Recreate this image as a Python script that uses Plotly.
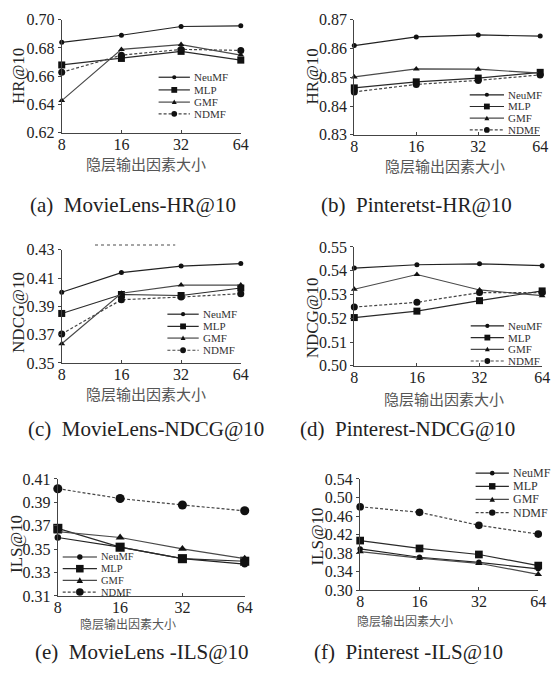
import plotly.graph_objects as go

W, H = 557, 683


def fx(X):
    return X / W


def fy(Y):
    return 1 - Y / H


categories = ["8", "16", "32", "64"]
series_names = ["NeuMF", "MLP", "GMF", "NDMF"]

# (a) MovieLens HR@10
a_neumf = [0.684, 0.689, 0.6952, 0.6957]
a_mlp = [0.668, 0.6726, 0.6776, 0.6714]
a_gmf = [0.6428, 0.679, 0.6824, 0.675]
a_ndmf = [0.6628, 0.6749, 0.679, 0.6783]
# (b) Pinterest HR@10
b_neumf = [0.8610, 0.8640, 0.8647, 0.8643]
b_mlp = [0.8463, 0.8484, 0.8497, 0.8517]
b_gmf = [0.8501, 0.8529, 0.8528, 0.8514]
b_ndmf = [0.8449, 0.8475, 0.8489, 0.8508]
# (c) MovieLens NDCG@10
c_neumf = [0.4000, 0.4139, 0.4185, 0.4203]
c_mlp = [0.3850, 0.3984, 0.3977, 0.4030]
c_gmf = [0.3636, 0.3993, 0.4051, 0.4051]
c_ndmf = [0.3705, 0.3947, 0.3966, 0.3990]
# (d) Pinterest NDCG@10
d_neumf = [0.5411, 0.5425, 0.5429, 0.5421]
d_mlp = [0.5203, 0.5230, 0.5274, 0.5315]
d_gmf = [0.5322, 0.5384, 0.5319, 0.5295]
d_ndmf = [0.5247, 0.5267, 0.5308, 0.5308]
# (e) MovieLens ILS@10
e_neumf = [0.3600, 0.3517, 0.3419, 0.3372]
e_mlp = [0.3678, 0.3517, 0.3419, 0.3397]
e_gmf = [0.3650, 0.3600, 0.3503, 0.3419]
e_ndmf = [0.4017, 0.3933, 0.3878, 0.3828]
# (f) Pinterest ILS@10
f_neumf = [0.389, 0.371, 0.360, 0.346]
f_mlp = [0.407, 0.390, 0.377, 0.353]
f_gmf = [0.383, 0.369, 0.358, 0.334]
f_ndmf = [0.480, 0.468, 0.440, 0.421]

y_titles = ["HR@10", "HR@10", "NDCG@10", "NDCG@10", "ILS@10", "ILS@10"]
captions = ["(a)  MovieLens-HR@10", "(b)  Pinteretst-HR@10",
            "(c)  MovieLens-NDCG@10", "(d)  Pinterest-NDCG@10",
            "(e)  MovieLens -ILS@10", "(f)  Pinterest -ILS@10"]
x_title = "隐层输出因素大小"
y_ranges = [(0.62, 0.70, 0.02), (0.83, 0.87, 0.01), (0.35, 0.43, 0.02),
            (0.50, 0.55, 0.01), (0.31, 0.41, 0.02), (0.30, 0.54, 0.04)]

panels = [
    [a_neumf, a_mlp, a_gmf, a_ndmf],
    [b_neumf, b_mlp, b_gmf, b_ndmf],
    [c_neumf, c_mlp, c_gmf, c_ndmf],
    [d_neumf, d_mlp, d_gmf, d_ndmf],
    [e_neumf, e_mlp, e_gmf, e_ndmf],
    [f_neumf, f_mlp, f_gmf, f_ndmf],
]

# layout in pixels: plot box (left, right, top, bottom)
boxes = [(59, 242, 12, 128), (358, 548, 12, 130),
         (59, 242, 248, 364), (358, 550, 245, 367),
         (55, 246, 483, 603), (364, 546, 483, 597)]
ytitle_pos = [(15, 70), (315, 70), (15, 312), (315, 318), (13, 550), (320, 542)]
xtitle_pos = [(145, 159.5, 15), (451, 162, 15), (145, 395.5, 15), (450, 400, 15),
              (127, 631, 12), (410, 628, 12)]
caption_pos = [(25, 202), (322, 202), (22, 432), (300, 432), (30, 660), (315, 660)]
# legend: line start x, line end x, row y's, font size
legend_geo = [(158, 190, [71, 84, 96.5, 108.5], 11),
              (476, 511, [89, 101, 113, 125], 11),
              (167, 199, [314, 326.5, 338.5, 351], 11),
              (477, 511, [326, 338, 350, 362], 11),
              (60, 95, [563, 575, 587, 599], 10.5),
              (482, 516, [477, 490.5, 504, 517.5], 12)]
marker_scale = [1.0, 1.0, 1.0, 1.0, 1.3, 1.1]

SERIF = "Liberation Serif, Times New Roman, serif"
CJK = "Noto Sans CJK SC"

line_styles = {
    "NeuMF": dict(color="#222222", width=1.2),
    "MLP": dict(color="#2a2a2a", width=1.2),
    "GMF": dict(color="#4a4a4a", width=1.2),
    "NDMF": dict(color="#444444", width=1.2, dash="3px,2px"),
}
marker_styles = {
    "NeuMF": ("circle", 5),
    "MLP": ("square", 7),
    "GMF": ("triangle-up", 6),
    "NDMF": ("circle", 7),
}

fig = go.Figure()
annotations = []
shapes = []

for i, series in enumerate(panels):
    k = i + 1
    xa = "x" if k == 1 else f"x{k}"
    ya = "y" if k == 1 else f"y{k}"
    for name, vals in zip(series_names, series):
        sym, sz = marker_styles[name]
        fig.add_trace(go.Scatter(
            x=categories, y=vals, name=name, mode="lines+markers",
            line=line_styles[name],
            marker=dict(symbol=sym, size=sz * marker_scale[i], color="#111"),
            xaxis=xa, yaxis=ya, showlegend=False, cliponaxis=False))
    l, r, t, b = boxes[i]
    lo, hi, dt = y_ranges[i]
    axx = dict(domain=[fx(l), fx(r)], anchor=ya, type="category",
               categoryorder="array", categoryarray=categories,
               range=[0, 3], showline=True, linecolor="#444", linewidth=1.3,
               ticks="inside", ticklen=3, tickcolor="#444", showgrid=False,
               zeroline=False, ticklabelstandoff=-3,
               tickfont=dict(family=SERIF, size=16, color="#222"))
    axy = dict(domain=[fy(b), fy(t)], anchor=xa, range=[lo, hi],
               dtick=dt, tick0=lo, tickformat=".2f", showline=True,
               linecolor="#444", linewidth=1.3, ticks="outside", ticklen=3,
               tickcolor="#444", showgrid=False, zeroline=False,
               tickfont=dict(family=SERIF, size=16, color="#222"))
    fig.layout["xaxis" if k == 1 else f"xaxis{k}"] = axx
    fig.layout["yaxis" if k == 1 else f"yaxis{k}"] = axy

    # axis titles and captions
    yx, yy = ytitle_pos[i]
    annotations.append(dict(text=y_titles[i], x=fx(yx), y=fy(yy),
                            xref="paper", yref="paper", showarrow=False,
                            textangle=-90, xanchor="center", yanchor="middle",
                            font=dict(family=SERIF, size=17, color="#222")))
    tx, ty, ts = xtitle_pos[i]
    annotations.append(dict(text=x_title, x=fx(tx), y=fy(ty),
                            xref="paper", yref="paper", showarrow=False,
                            xanchor="center", yanchor="middle",
                            font=dict(family=CJK, size=ts, color="#555")))
    cx, cy = caption_pos[i]
    annotations.append(dict(text=captions[i], x=fx(cx), y=fy(cy),
                            xref="paper", yref="paper", showarrow=False,
                            xanchor="left", yanchor="middle",
                            font=dict(family=SERIF, size=21, color="#222")))

    # legend (key samples + labels)
    x0, x1, rows, lfs = legend_geo[i]
    xm = (x0 + x1) / 2
    for name, yr in zip(series_names, rows):
        ls = line_styles[name]
        shapes.append(dict(type="line", xref="paper", yref="paper",
                           x0=fx(x0), x1=fx(x1), y0=fy(yr), y1=fy(yr),
                           line=dict(color=ls["color"], width=1.2,
                                     dash=ls.get("dash", "solid"))))
        sym, sz = marker_styles[name]
        s = sz * marker_scale[i] * 0.85
        hs = s / 2
        if sym == "circle":
            shapes.append(dict(type="circle", xref="paper", yref="paper",
                               x0=fx(xm - hs), x1=fx(xm + hs),
                               y0=fy(yr + hs), y1=fy(yr - hs),
                               fillcolor="#111", line=dict(width=0)))
        elif sym == "square":
            shapes.append(dict(type="rect", xref="paper", yref="paper",
                               x0=fx(xm - hs), x1=fx(xm + hs),
                               y0=fy(yr + hs), y1=fy(yr - hs),
                               fillcolor="#111", line=dict(width=0)))
        else:
            p = (f"M {fx(xm - hs)},{fy(yr + hs * 0.8)} "
                 f"L {fx(xm + hs)},{fy(yr + hs * 0.8)} "
                 f"L {fx(xm)},{fy(yr - hs)} Z")
            shapes.append(dict(type="path", xref="paper", yref="paper",
                               path=p, fillcolor="#111", line=dict(width=0)))
        annotations.append(dict(text=name, x=fx(x1 + 2), y=fy(yr),
                                xref="paper", yref="paper", showarrow=False,
                                xanchor="left", yanchor="middle",
                                font=dict(family=SERIF, size=lfs, color="#333")))

# faint dotted scan mark above panel (c)
shapes.append(dict(type="line", xref="paper", yref="paper",
                   x0=fx(93), x1=fx(175), y0=fy(243), y1=fy(243),
                   line=dict(color="#888", width=1.5, dash="dot")))

fig.update_layout(
    width=W, height=H, margin=dict(l=0, r=0, t=0, b=0),
    paper_bgcolor="white", plot_bgcolor="white",
    annotations=annotations, shapes=shapes, showlegend=False,
)

fig.write_html("out.html", config={"displayModeBar": False},
               post_script="document.body.style.margin='0px';"
                           "document.body.style.padding='0px';")
